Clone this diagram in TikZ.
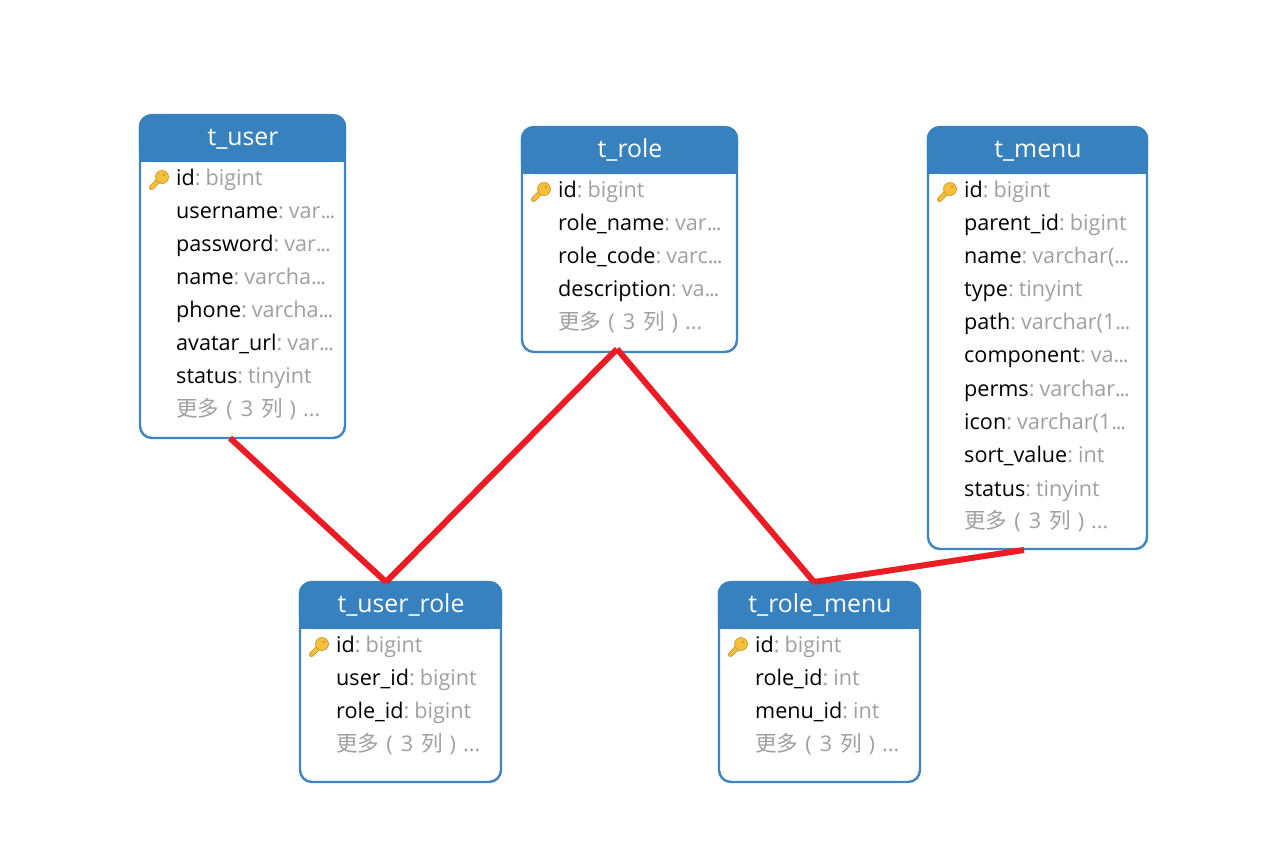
\documentclass[tikz,border=0pt]{standalone}
\usepackage{fontspec}
\setmainfont{Open Sans}
\newfontfamily\cjk{Noto Sans CJK SC}
\usetikzlibrary{calc}
\definecolor{hdr}{HTML}{3881BF}
\definecolor{bord}{HTML}{3F85C2}
\definecolor{typ}{HTML}{A0A0A0}
\definecolor{rel}{HTML}{ED1C24}
\definecolor{gold}{HTML}{F4C03C}
\definecolor{golddk}{HTML}{D49A26}
\newcommand{\fs}{\fontsize{21.6}{24}\selectfont}
\newcommand{\dd}{.\kern-1.2pt.\kern-1.2pt.}
\tikzset{
  x=1pt,y=-1pt,
  tbl/.style={draw=bord,line width=2.4pt,rounded corners=12pt,fill=white,inner sep=0pt,outer sep=0pt,anchor=north west},
  ttl/.style={text=white,inner sep=0pt,anchor=base,font=\fontsize{24.8}{27}\selectfont},
  rowtxt/.style={inner sep=0pt,anchor=base west,font=\fs},
  reltn/.style={draw=rel,line width=6pt,line cap=butt},
}
% \tablebox{name}{x}{y}{w}{h}{title}
\newcommand{\tablebox}[6]{%
  \node[tbl,minimum width=#4pt,minimum height=#5pt] (#1) at (#2,#3) {};
  \fill[hdr,rounded corners=12pt] (#2-1.2,#3+47) -- (#2-1.2,#3-0.4) -- (#2+#4+1.2,#3-0.4) -- (#2+#4+1.2,#3+47) -- cycle;
  \fill[hdr] (#2-1.2,#3+25) rectangle (#2+#4+1.2,#3+47);
  \node[ttl] (#1title) at (#2+#4/2+0.5,#3+30) {#6};
}
% \keyicon{name}{x}{y}: y = row centre, x = left of key
\newcommand{\keyicon}[3]{%
  \begin{scope}[shift={(#2,#3)}]
    \draw[golddk,line width=5pt,line cap=round] (3.5,7.5) -- (11,0);
    \draw[gold,line width=3.4pt,line cap=round] (3.5,7.5) -- (11,0);
    \node[circle,fill=gold,draw=golddk,line width=.7pt,minimum size=13pt,inner sep=0pt] (#1) at (14,-3) {};
    \fill[golddk] (16,-5) circle (1.3pt);
  \end{scope}
}
% \fieldrow{node}{x}{baseline}{name}{type}
\newcommand{\fieldrow}[5]{\node[rowtxt] (#1) at (#2,#3) {#4\textcolor{typ}{:\kern-0.6pt\ #5}};}
\newcommand{\morerow}[3]{\node[rowtxt,text=typ] (#1) at (#2,#3) {{\cjk 更多}\hspace{7pt}(\hspace{8pt}3\hspace{8pt}{\cjk 列}\hspace{7pt})\hspace{7pt}...};}
\begin{document}
\begin{tikzpicture}
\useasboundingbox (0,0) rectangle (1278,855);
\fill[white] (0,0) rectangle (1278,855);

% t_user
\tablebox{tuser}{140}{115}{205}{323}{t\_user}
\keyicon{ku}{148}{180}
\fieldrow{u1}{176}{185}{id}{bigint}
\fieldrow{u2}{176}{218}{username}{var\dd}
\fieldrow{u3}{176}{251}{password}{var\dd}
\fieldrow{u4}{176}{284}{name}{varcha\dd}
\fieldrow{u5}{176}{317}{phone}{varcha\dd}
\fieldrow{u6}{176}{350}{avatar\_url}{var\dd}
\fieldrow{u7}{176}{383.5}{status}{tinyint}
\morerow{u8}{176}{416}

% t_role
\tablebox{trole}{522}{127}{215}{225}{t\_role}
\keyicon{kr}{530}{192}
\fieldrow{r1}{558}{197}{id}{bigint}
\fieldrow{r2}{558}{230}{role\_name}{var\dd}
\fieldrow{r3}{558}{263}{role\_code}{varc\dd}
\fieldrow{r4}{558}{296}{description}{va\dd}
\morerow{r5}{558}{329}

% t_menu
\tablebox{tmenu}{928}{127}{219}{422}{t\_menu}
\keyicon{km}{936}{192}
\fieldrow{m1}{964}{197}{id}{bigint}
\fieldrow{m2}{964}{230}{parent\_id}{bigint}
\fieldrow{m3}{964}{263}{name}{varchar(\dd}
\fieldrow{m4}{964}{296}{type}{tinyint}
\fieldrow{m5}{964}{329}{path}{varchar(1\dd}
\fieldrow{m6}{964}{362}{component}{va\dd}
\fieldrow{m7}{964}{396}{perms}{varchar\dd}
\fieldrow{m8}{964}{429}{icon}{varchar(1\dd}
\fieldrow{m9}{964}{462}{sort\_value}{int}
\fieldrow{m10}{964}{496}{status}{tinyint}
\morerow{m11}{964}{528}

% t_user_role
\tablebox{tur}{300}{582}{201}{200}{t\_user\_role}
\keyicon{kur}{308}{647}
\fieldrow{ur1}{336}{652}{id}{bigint}
\fieldrow{ur2}{336}{685}{user\_id}{bigint}
\fieldrow{ur3}{336}{718}{role\_id}{bigint}
\morerow{ur4}{336}{751}

% t_role_menu
\tablebox{trm}{719}{582}{201}{200}{t\_role\_menu}
\keyicon{krm}{727}{647}
\fieldrow{rm1}{755}{652}{id}{bigint}
\fieldrow{rm2}{755}{685}{role\_id}{int}
\fieldrow{rm3}{755}{718}{menu\_id}{int}
\morerow{rm4}{755}{751}

% connectors
\coordinate (tuserB) at ($(tuser.south west)+(90,0)$);
\coordinate (turT) at ($(tur.north west)+(86,0)$);
\coordinate (troleB) at ($(trole.south west)+(95,-3)$);
\coordinate (trmT) at ($(trm.north west)+(95,0)$);
\coordinate (tmenuB) at ($(tmenu.south west)+(96,1)$);
\draw[reltn] (tuserB) -- (turT);
\draw[reltn] (turT) -- (troleB);
\draw[reltn] (troleB) -- (trmT);
\draw[reltn] (trmT) -- (tmenuB);
\end{tikzpicture}
\end{document}
